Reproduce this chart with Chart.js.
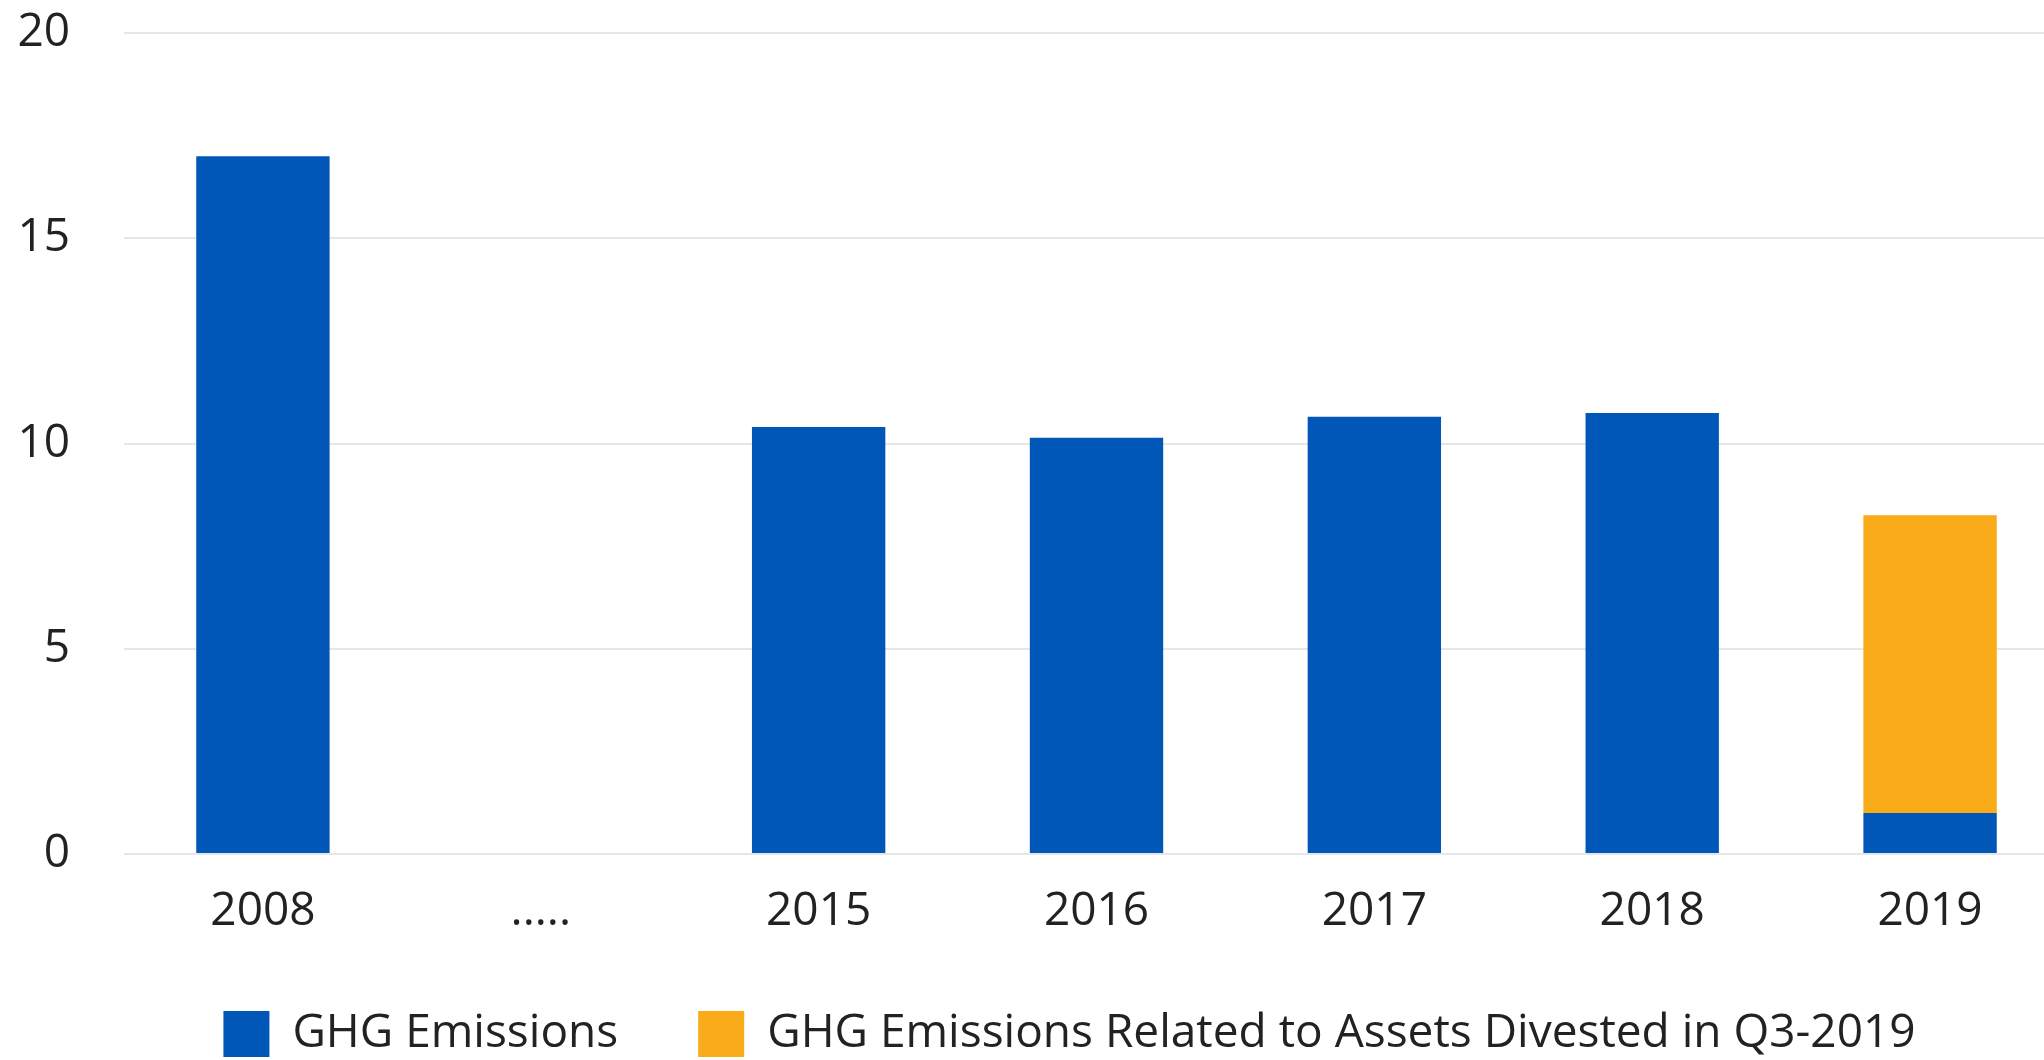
<!DOCTYPE html>
<html>
<head>
<meta charset="utf-8">
<script src="https://cdn.jsdelivr.net/npm/chart.js@4.4.1/dist/chart.umd.min.js"></script>
<style>
  html, body { margin: 0; padding: 0; background: #ffffff; overflow: hidden; }
  #wrap { position: absolute; left: 0; top: 0; width: 2130px; height: 1067px; }
</style>
</head>
<body>
<div id="wrap"><canvas id="c"></canvas></div>
<script>
const categories = ['2008', '.....', '2015', '2016', '2017', '2018', '2019'];
const ghgEmissions = [17.0, null, 10.4, 10.14, 10.65, 10.74, 1.0];
const ghgDivested = [null, null, null, null, null, null, 7.25];
const yTicks = [0, 5, 10, 15, 20];
const seriesNames = ['GHG Emissions', 'GHG Emissions Related to Assets Divested in Q3-2019'];

const FONT = '"Open Sans", "Noto Sans", sans-serif';

const legendShift = {
  id: 'legendShift',
  afterLayout(chart) {
    if (chart.legend) { chart.legend.left += 26; chart.legend.right += 26; }
  }
};

function draw() {
  Chart.defaults.font.family = FONT;
  Chart.defaults.font.size = 46;
  Chart.defaults.color = '#222222';
  new Chart(document.getElementById('c'), {
    type: 'bar',
    data: {
      labels: categories,
      datasets: [
        { label: seriesNames[0], data: ghgEmissions, backgroundColor: '#0057B8', stack: 's' },
        { label: seriesNames[1], data: ghgDivested, backgroundColor: '#F9AB19', stack: 's' }
      ]
    },
    plugins: [legendShift],
    options: {
      responsive: true,
      maintainAspectRatio: false,
      animation: false,
      events: [],
      layout: { padding: { left: 18, top: 33, right: 61, bottom: 0 } },
      datasets: { bar: { categoryPercentage: 0.8, barPercentage: 0.6 } },
      scales: {
        x: {
          stacked: true,
          grid: { display: false, drawTicks: false },
          border: { display: false },
          ticks: { padding: 30, font: { size: 46 }, color: '#222222', maxRotation: 0, autoSkip: false },
          afterFit: (axis) => { axis.height = 77; }
        },
        y: {
          stacked: true,
          min: 0,
          max: 20,
          afterBuildTicks: (axis) => { axis.ticks = yTicks.map(v => ({ value: v })); },
          afterFit: (axis) => { axis.width = 106; axis.paddingTop = 0; axis.paddingBottom = 0; },
          grid: { color: '#e6e6e6', lineWidth: 2, drawTicks: false },
          border: { display: false },
          ticks: { padding: 54, font: { size: 46 }, color: '#222222' }
        }
      },
      plugins: {
        tooltip: { enabled: false },
        legend: {
          position: 'bottom',
          labels: { boxWidth: 46, boxHeight: 46, padding: 80, font: { size: 46 }, color: '#222222' }
        }
      }
    }
  });
}

if (document.fonts && document.fonts.load) {
  document.fonts.load('46px "Open Sans"').then(draw, draw);
} else {
  draw();
}
</script>
</body>
</html>
